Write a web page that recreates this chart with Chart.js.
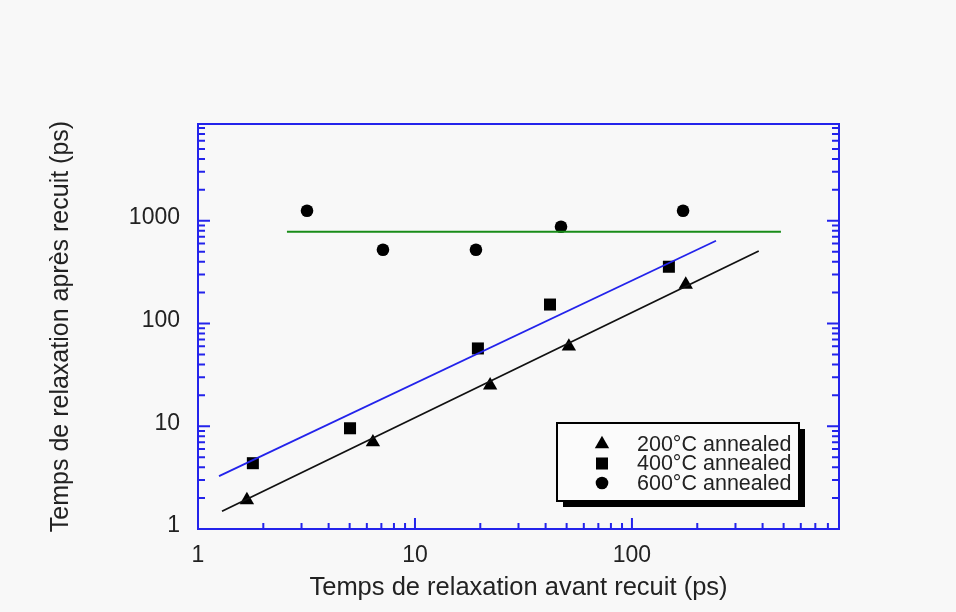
<!DOCTYPE html>
<html>
<head>
<meta charset="utf-8">
<script src="https://cdn.jsdelivr.net/npm/chart.js@4.4.1/dist/chart.umd.min.js"></script>
<style>
  body { margin: 0; background: #f8f8f8; }
  #wrap { width: 956px; height: 612px; }
</style>
</head>
<body>
<div id="wrap"><canvas id="chartCanvas" width="956" height="612"></canvas></div>
<script>
// axis titles
const xTitle = 'Temps de relaxation avant recuit (ps)';
const yTitle = 'Temps de relaxation après recuit (ps)';

// axis ranges (log)
const xMin = 1, xMax = 900;
const yMin = 1, yMax = 8750;

// 200°C annealed
const x200 = [1.68, 6.4, 22.2, 51.2, 177];
const y200 = [1.91, 7.0, 25, 59.8, 239];
// 400°C annealed
const x400 = [1.79, 5.02, 19.5, 41.9, 148];
const y400 = [4.37, 9.56, 57.2, 153, 357];
// 600°C annealed
const x600 = [3.18, 7.12, 19.1, 47.1, 172];
const y600 = [1250, 523, 523, 875, 1250];

// fitted lines (end points)
const fit200X = [1.29, 384];
const fit200Y = [1.49, 508];
const fit400X = [1.25, 244];
const fit400Y = [3.27, 640];
const fit600X = [2.57, 486];
const fit600Y = [782, 782];

const labels = ['200°C annealed', '400°C annealed', '600°C annealed'];

const axisBlue = 'rgb(35, 35, 235)';
const textColor = '#222';
const fontFamily = '"Liberation Sans", Arial, Helvetica, sans-serif';

const toPoints = (xs, ys) => xs.map((x, i) => ({ x: x, y: ys[i] }));

function logTicks(min, max) {
  const out = [];
  for (let e = Math.floor(Math.log10(min)); e <= Math.ceil(Math.log10(max)); e++) {
    for (let m = 1; m <= 9; m++) {
      const v = m * Math.pow(10, e);
      if (v >= min && v <= max * 1.0001) out.push({ v: v, major: m === 1 });
    }
  }
  return out;
}

// frame + inward ticks on left, bottom and right
const frameTicks = {
  id: 'frameTicks',
  afterDraw(chart) {
    const { ctx, chartArea: a, scales } = chart;
    ctx.save();
    ctx.strokeStyle = axisBlue;
    ctx.lineWidth = 2;
    ctx.strokeRect(a.left, a.top, a.right - a.left, a.bottom - a.top);
    ctx.beginPath();
    logTicks(xMin, xMax).forEach(t => {
      const px = scales.x.getPixelForValue(t.v);
      const len = t.major ? 11 : 6;
      ctx.moveTo(px, a.bottom);
      ctx.lineTo(px, a.bottom - len);
    });
    logTicks(yMin, yMax).forEach(t => {
      const py = scales.y.getPixelForValue(t.v);
      const len = t.major ? 12 : 7;
      ctx.moveTo(a.left, py);
      ctx.lineTo(a.left + len, py);
      ctx.moveTo(a.right, py);
      ctx.lineTo(a.right - len, py);
    });
    ctx.stroke();
    ctx.restore();
  }
};

// boxed legend with drop shadow
const boxLegend = {
  id: 'boxLegend',
  afterDraw(chart, args, opts) {
    const { ctx } = chart;
    const { left, top, width, height, shadow } = opts;
    ctx.save();
    ctx.fillStyle = '#000';
    ctx.fillRect(left + shadow, top + shadow, width, height);
    ctx.fillStyle = '#fbfbfb';
    ctx.fillRect(left, top, width, height);
    ctx.strokeStyle = '#000';
    ctx.lineWidth = 2;
    ctx.strokeRect(left, top, width, height);
    ctx.font = '21.5px ' + fontFamily;
    ctx.textBaseline = 'middle';
    chart.data.datasets.filter(d => d.inLegend).forEach((d, i) => {
      const cy = top + opts.firstRow + i * opts.rowStep;
      ctx.fillStyle = '#000';
      Chart.helpers.drawPoint(ctx, {
        pointStyle: d.pointStyle, radius: d.pointRadius, rotation: 0, borderWidth: 0
      }, left + opts.markerX, cy);
      ctx.fillStyle = textColor;
      ctx.fillText(d.label, left + opts.textX, cy + 1);
    });
    ctx.restore();
  }
};

const markerSet = (label, data, style, r) => ({
  label: label,
  data: data,
  inLegend: true,
  showLine: false,
  pointStyle: style,
  pointRadius: r,
  pointBackgroundColor: '#000',
  pointBorderWidth: 0
});

const lineSet = (data, color) => ({
  label: '',
  data: data,
  showLine: true,
  borderColor: color,
  borderWidth: 1.8,
  pointRadius: 0,
  fill: false
});

const ctx = document.getElementById('chartCanvas').getContext('2d');
new Chart(ctx, {
  type: 'scatter',
  data: {
    datasets: [
      lineSet(toPoints(fit200X, fit200Y), '#111'),
      lineSet(toPoints(fit400X, fit400Y), axisBlue),
      lineSet(toPoints(fit600X, fit600Y), 'rgb(25, 140, 25)'),
      markerSet(labels[0], toPoints(x200, y200), 'triangle', 8.3),
      markerSet(labels[1], toPoints(x400, y400), 'rect', 8.5),
      markerSet(labels[2], toPoints(x600, y600), 'circle', 6.3)
    ]
  },
  options: {
    responsive: false,
    animation: false,
    devicePixelRatio: 1,
    layout: { padding: { left: 0, top: 124, right: 117, bottom: 0 } },
    plugins: {
      legend: { display: false },
      tooltip: { enabled: false },
      boxLegend: {
        left: 557, top: 423, width: 242, height: 78, shadow: 6,
        firstRow: 21, rowStep: 19.5, markerX: 45, textX: 80
      }
    },
    scales: {
      x: {
        type: 'logarithmic',
        min: xMin,
        max: xMax,
        grid: { display: false, drawTicks: false },
        border: { display: false },
        ticks: {
          autoSkip: false,
          maxRotation: 0,
          padding: 13,
          color: textColor,
          font: { family: fontFamily, size: 23 },
          callback: v => (Number.isInteger(Math.log10(v)) ? String(v) : '')
        },
        title: {
          display: true,
          text: xTitle,
          color: textColor,
          font: { family: fontFamily, size: 25.5 },
          padding: { top: 0, bottom: 9 }
        },
        afterFit: s => { s.height = 83; }
      },
      y: {
        type: 'logarithmic',
        min: yMin,
        max: yMax,
        grid: { display: false, drawTicks: false },
        border: { display: false },
        ticks: {
          autoSkip: false,
          padding: 18,
          labelOffset: -3,
          color: textColor,
          font: { family: fontFamily, size: 23 },
          callback: v => (Number.isInteger(Math.log10(v)) ? String(v) : '')
        },
        title: {
          display: true,
          text: yTitle,
          color: textColor,
          font: { family: fontFamily, size: 25 },
          padding: { top: 46, bottom: 0 }
        },
        afterFit: s => { s.width = 198; }
      }
    }
  },
  plugins: [frameTicks, boxLegend]
});
</script>
</body>
</html>
